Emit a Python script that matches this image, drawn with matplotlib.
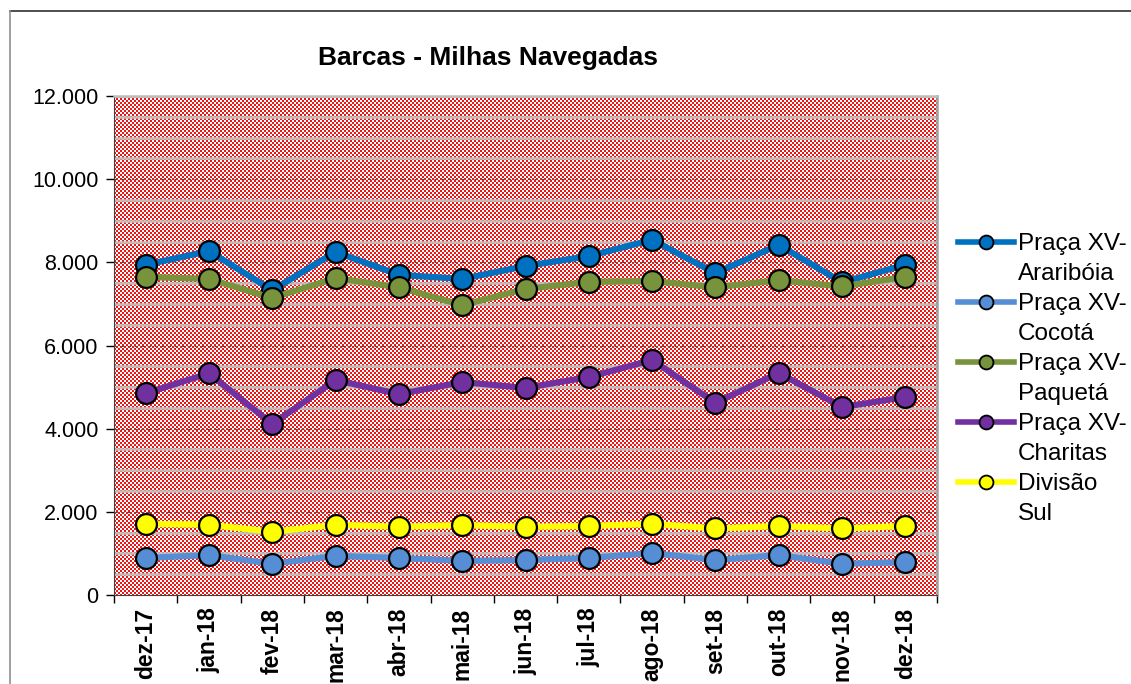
import matplotlib
matplotlib.use('agg')
import matplotlib.pyplot as plt
from matplotlib.lines import Line2D
from matplotlib.ticker import FuncFormatter, MultipleLocator
import numpy as np

plt.rcParams['font.family'] = ['Liberation Sans', 'DejaVu Sans']

months = ['dez-17', 'jan-18', 'fev-18', 'mar-18', 'abr-18', 'mai-18', 'jun-18',
          'jul-18', 'ago-18', 'set-18', 'out-18', 'nov-18', 'dez-18']

arariboia = [7940, 8270, 7330, 8250, 7700, 7600, 7910, 8150, 8540, 7740, 8420, 7520, 7940]
cocota = [890, 960, 750, 940, 890, 820, 840, 890, 1010, 840, 960, 750, 790]
paqueta = [7650, 7600, 7140, 7620, 7400, 6970, 7360, 7530, 7550, 7400, 7570, 7420, 7650]
charitas = [4850, 5330, 4110, 5170, 4830, 5120, 4980, 5240, 5650, 4620, 5340, 4520, 4760]
divisao_sul = [1710, 1690, 1520, 1690, 1640, 1680, 1640, 1660, 1710, 1600, 1660, 1600, 1660]

series = [
    (('Praça XV-', 'Araribóia'), arariboia, '#0070C0'),
    (('Praça XV-', 'Cocotá'), cocota, '#558ED5'),
    (('Praça XV-', 'Paquetá'), paqueta, '#77933C'),
    (('Praça XV-', 'Charitas'), charitas, '#7030A0'),
    (('Divisão', 'Sul'), divisao_sul, '#FFFF00'),
]

W, H = 1131, 684
fig = plt.figure(figsize=(W / 100, H / 100), dpi=100)
# outer chart frame: only the top and left edges show in the crop
fig.add_artist(Line2D([10 / W, 1], [1 - 11 / H, 1 - 11 / H], transform=fig.transFigure,
                      color='#303030', lw=1.2))
fig.add_artist(Line2D([10 / W, 10 / W], [0, 1 - 11 / H], transform=fig.transFigure,
                      color='#909090', lw=1.2))

ax = fig.add_axes([114 / W, 1 - 595 / H, 823 / W, 499 / H])

# red/white checkered fill of the plot area
ph, pw = 499, 823
yy, xx = np.indices((ph, pw))
red = (xx // 2 + yy // 2) % 2 == 0
img = np.ones((ph, pw, 3))
img[red] = [0.93, 0.08, 0.08]
ax.imshow(img, extent=(0, 1, 0, 1), transform=ax.transAxes, aspect='auto',
          interpolation='none', zorder=0)

x = np.arange(len(months))
ax.set_xlim(-0.5, len(months) - 0.5)
ax.set_ylim(0, 12000)

for v in np.arange(500, 12001, 500):
    if v % 2000 == 0 and v < 12000:
        ax.axhline(v, color='#505050', lw=0.8, ls=(0, (3, 3)), zorder=1)
    else:
        ax.axhline(v, color='#BDBDBD', lw=1.8, zorder=1)

for name, vals, col in series:
    ax.plot(x, vals, color=col, lw=4.5, marker='o', markersize=15,
            markerfacecolor=col, markeredgecolor='black', markeredgewidth=1.6,
            zorder=3)

ax.yaxis.set_major_locator(MultipleLocator(2000))
ax.yaxis.set_major_formatter(FuncFormatter(lambda v, p: f'{int(v):,}'.replace(',', '.')))
ax.tick_params(axis='y', labelsize=15.5, direction='out', length=6, width=1, pad=5)

ax.set_xticks(x)
ax.set_xticklabels(months, rotation=90, fontweight='bold', fontsize=16.5)
ax.set_xticks(np.arange(-0.5, len(months), 1), minor=True)
ax.tick_params(axis='x', which='major', length=0, pad=9)
ax.tick_params(axis='x', which='minor', direction='out', length=6, width=1)

ax.spines['left'].set_color('#404040')
ax.spines['bottom'].set_color('#404040')
ax.spines['top'].set_color('#BDBDBD')
ax.spines['right'].set_color('#A0A0A0')
ax.spines['top'].set_linewidth(1.8)
ax.spines['right'].set_linewidth(1.8)

fig.text(488 / W, 1 - 58 / H, 'Barcas - Milhas Navegadas', ha='center', va='center',
         fontsize=19, fontweight='bold')

# legend: handle on first line of each two-line label, blank handle on second
handles, labels = [], []
for (l1, l2), vals, col in series:
    handles.append(Line2D([0], [0], color=col, lw=4, marker='o', markersize=10,
                          markerfacecolor=col, markeredgecolor='black',
                          markeredgewidth=1.3))
    labels.append(l1)
    handles.append(Line2D([0], [0], color='none'))
    labels.append(l2)
fig.legend(handles, labels, loc='upper left',
           bbox_to_anchor=(958 / W, 1 - 233 / H), frameon=False, fontsize=17.5,
           handlelength=2.3, handletextpad=0.17, labelspacing=0.33, borderpad=0,
           borderaxespad=0)

plt.savefig('out.png', dpi=100)
